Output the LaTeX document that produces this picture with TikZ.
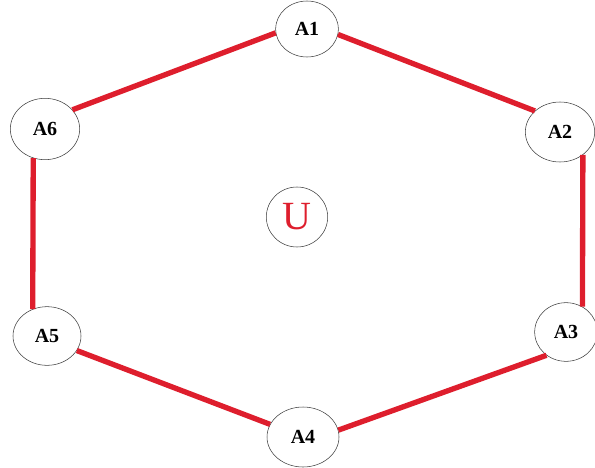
\documentclass[tikz,border=0pt]{standalone}
\usepackage{fontspec}
\setmainfont{Liberation Serif}
\usetikzlibrary{shapes.geometric}
\definecolor{ringred}{RGB}{222, 30, 45}
\definecolor{ringline}{RGB}{60, 60, 60}
\tikzset{
  ringNode/.style={
    draw=ringline,
    ellipse,
    thin,
    fill=white,
    minimum width=48pt,
    minimum height=43pt,
    inner sep=1pt,
    font=\fontsize{15}{17}\selectfont\bfseries
  },
  centreNode/.style={
    draw=ringline,
    ellipse,
    thin,
    minimum width=46pt,
    minimum height=45pt,
    inner sep=1pt,
    font=\fontsize{30}{33}\selectfont\color{ringred}
  },
  ringEdge/.style={
    draw=ringred,
    line width=4pt
  }
}
\begin{document}
\begin{tikzpicture}[x=0.75pt,y=-0.75pt]
  \useasboundingbox (0,0) rectangle (595,467);
  % hexagon of nodes
  \node[ringNode, minimum width=47pt, minimum height=42pt] (A1) at (307,29) {A1};
  \node[ringNode, minimum width=52pt, minimum height=45pt] (A2) at (560,132) {A2};
  \node[ringNode, minimum width=47pt, minimum height=44pt] (A3) at (566,332) {A3};
  \node[ringNode, minimum width=54pt, minimum height=45pt] (A4) at (303,437) {A4};
  \node[ringNode, minimum width=51pt, minimum height=44pt] (A5) at (47,336) {A5};
  \node[ringNode, minimum width=52pt, minimum height=46pt] (A6) at (45,129) {A6};
  \node[centreNode] (U) at (297,217) {U};
  % ring
  \draw[ringEdge] (A1.-10) -- (A2.140);
  \draw[ringEdge] (A2.-45) -- (A3.57);
  \draw[ringEdge] (A3.230) -- (A4.11);
  \draw[ringEdge] (A4.159) -- (A5.-26);
  \draw[ringEdge] (A5.118) -- (A6.-112);
  \draw[ringEdge] (A6.35) -- (A1.187);
\end{tikzpicture}
\end{document}
